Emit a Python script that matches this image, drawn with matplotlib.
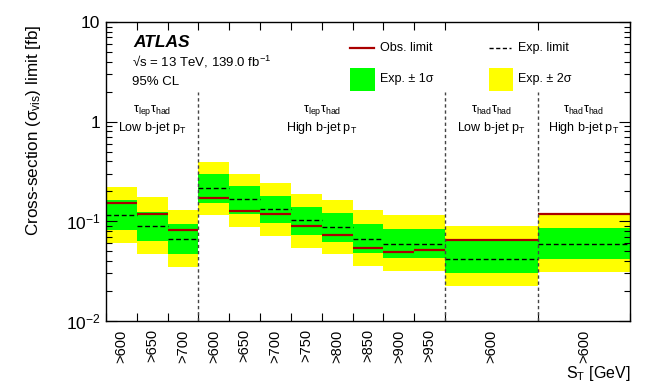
import matplotlib
matplotlib.use("Agg")
import matplotlib.pyplot as plt
import numpy as np
from matplotlib.lines import Line2D
from matplotlib.patches import Rectangle

plt.rcParams['font.family'] = ['Liberation Sans', 'DejaVu Sans']
plt.rcParams['mathtext.fontset'] = 'custom'
plt.rcParams['mathtext.rm'] = 'Liberation Sans'
plt.rcParams['mathtext.it'] = 'Liberation Sans:italic'
plt.rcParams['mathtext.bf'] = 'Liberation Sans:bold'

# ---- data ----
edges = [0, 1, 2, 3, 4, 5, 6, 7, 8, 9, 10, 11, 14, 17]
tick_labels = [">600", ">650", ">700",
               ">600", ">650", ">700", ">750", ">800", ">850", ">900", ">950",
               ">600", ">600"]
obs = [0.151, 0.118, 0.0814, 0.172, 0.128, 0.118, 0.090, 0.0725, 0.054, 0.0493, 0.052, 0.0645, 0.118]
exp = [0.116, 0.089, 0.066, 0.218, 0.167, 0.134, 0.1026, 0.088, 0.067, 0.0598, 0.0598, 0.0423, 0.0598]
plus1 = [0.164, 0.125, 0.094, 0.296, 0.225, 0.181, 0.140, 0.121, 0.094, 0.083, 0.083, 0.066, 0.086]
minus1 = [0.082, 0.0635, 0.047, 0.154, 0.118, 0.096, 0.073, 0.0627, 0.048, 0.043, 0.043, 0.0306, 0.0423]
plus2 = [0.223, 0.176, 0.130, 0.392, 0.299, 0.241, 0.188, 0.163, 0.130, 0.116, 0.116, 0.0906, 0.119]
minus2 = [0.061, 0.0475, 0.035, 0.116, 0.088, 0.072, 0.0545, 0.0468, 0.0357, 0.032, 0.032, 0.0225, 0.0313]
separators = [3, 11, 14]
region_top = [r"τ$_{\rm lep}$τ$_{\rm had}$", r"τ$_{\rm lep}$τ$_{\rm had}$",
              r"τ$_{\rm had}$τ$_{\rm had}$", r"τ$_{\rm had}$τ$_{\rm had}$"]
region_bot = [r"Low b-jet p$_{\rm T}$", r"High b-jet p$_{\rm T}$",
              r"Low b-jet p$_{\rm T}$", r"High b-jet p$_{\rm T}$"]
region_x = [1.5, 7.0, 12.5, 15.5]

edges_a = np.array(edges, dtype=float)
centers = 0.5 * (edges_a[:-1] + edges_a[1:])

fig = plt.figure(figsize=(6.64, 3.82), dpi=100)
ax = fig.add_axes([106/664, 1 - 321/382, 524/664, 299/382])

ax.set_yscale('log')
ax.set_ylim(0.01, 10)
ax.set_xlim(edges[0], edges[-1])

ax.stairs(plus2, edges_a, baseline=minus2, fill=True, color='#ffff00', lw=0)
ax.stairs(plus1, edges_a, baseline=minus1, fill=True, color='#00ff00', lw=0)
ax.hlines(exp, edges_a[:-1], edges_a[1:], colors='black', lw=1.0,
          linestyles=[(0, (3.5, 2.0))])
ax.hlines(obs, edges_a[:-1], edges_a[1:], colors='#aa0000', lw=1.6)

ax.vlines(separators, 0.01, 2.0, colors='#444444', lw=1.0,
          linestyles=[(0, (2.4, 2.0))])

# ticks
ax.set_xticks(centers)
ax.set_xticklabels(tick_labels, rotation=90, fontsize=10.5)
ax.set_xticks(edges_a, minor=True)
ax.tick_params(axis='x', which='major', length=0, pad=6)
ax.tick_params(axis='x', which='minor', direction='in', length=6, width=0.8,
               top=True, bottom=True)
ax.set_yticks([0.01, 0.1, 1, 10])
ax.set_yticklabels([r"$10^{-2}$", r"$10^{-1}$", "1", "10"], fontsize=12.5)
ax.tick_params(axis='y', which='major', direction='in', length=8, width=0.8,
               left=True, right=True, pad=4)
ax.tick_params(axis='y', which='minor', direction='in', length=4, width=0.8,
               left=True, right=True, labelleft=False)
for s in ax.spines.values():
    s.set_linewidth(1.0)

ax.set_ylabel(r"Cross-section (σ$_{\rm vis}$) limit [fb]", fontsize=12.3, loc='top')
ax.yaxis.set_label_coords(-0.12, 0.99)
ax.set_xlabel(r"S$_{\rm T}$ [GeV]", fontsize=11.5, loc='right', labelpad=1)

# ATLAS labels
ta = ax.transAxes
ax.text(0.052, 0.93, "ATLAS", transform=ta, fontsize=12.5, fontweight='bold',
        fontstyle='italic', va='center', ha='left')
ax.text(0.050, 0.865, r"√s = 13 TeV, 139.0 fb$^{-1}$", transform=ta, fontsize=9.5,
        va='center', ha='left')
ax.text(0.050, 0.80, "95% CL", transform=ta, fontsize=9.5, va='center', ha='left')

# region labels
for xr, t1, t2 in zip(region_x, region_top, region_bot):
    ax.text(xr, 0.705, t1, transform=ax.get_xaxis_transform(), fontsize=9,
            ha='center', va='center')
    ax.text(xr, 0.645, t2, transform=ax.get_xaxis_transform(), fontsize=9,
            ha='center', va='center')

# legend (drawn manually)
ax.add_line(Line2D([0.4656, 0.5115], [0.913, 0.913], transform=ta, color='#aa0000', lw=1.6))
ax.text(0.523, 0.913, "Obs. limit", transform=ta, fontsize=9, va='center', ha='left')
ax.add_line(Line2D([0.731, 0.773], [0.913, 0.913], transform=ta, color='black', lw=1.0,
                   linestyle=(0, (3.0, 1.8))))
ax.text(0.786, 0.913, "Exp. limit", transform=ta, fontsize=9, va='center', ha='left')
ax.add_patch(Rectangle((0.4656, 0.769), 0.0478, 0.077, transform=ta, color='#00ff00', lw=0))
ax.text(0.523, 0.808, "Exp. ± 1σ", transform=ta, fontsize=9, va='center', ha='left')
ax.add_patch(Rectangle((0.731, 0.769), 0.046, 0.077, transform=ta, color='#ffff00', lw=0))
ax.text(0.786, 0.808, "Exp. ± 2σ", transform=ta, fontsize=9, va='center', ha='left')

fig.savefig("out.png", dpi=100)
